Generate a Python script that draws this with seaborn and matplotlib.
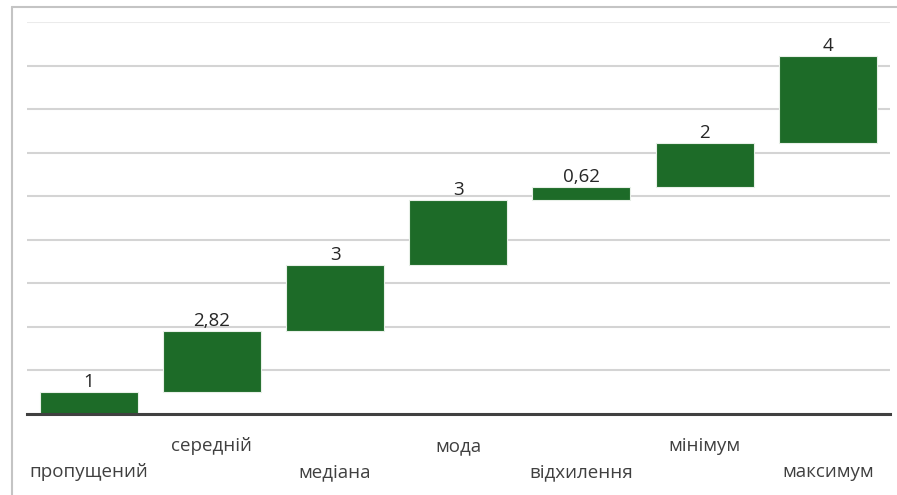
import matplotlib
matplotlib.use("Agg")
import matplotlib.pyplot as plt
import seaborn as sns
import numpy as np
from matplotlib.lines import Line2D

categories = ["пропущений", "середній", "медіана", "мода", "відхилення", "мінімум", "максимум"]
values = [1, 2.82, 3, 3, 0.62, 2, 4]
value_labels = ["1", "2,82", "3", "3", "0,62", "2", "4"]

bottoms = list(np.concatenate([[0], np.cumsum(values)[:-1]]))

sns.set_style("white")
plt.rcParams["font.family"] = ["Open Sans", "DejaVu Sans"]

fig = plt.figure(figsize=(8.97, 4.95), dpi=100)
ax = fig.add_axes([27/897, 1-414/495, (889.5-27)/897, (414-22)/495])

sns.barplot(x=categories, y=values, bottom=bottoms, color="#1d6b28",
            saturation=1, width=0.795, ax=ax, linewidth=0.8, edgecolor="#e8f0e8",
            zorder=3)

ax.set_ylim(0, 18)
ax.set_xlim(-0.5, 6.5)
ax.set_yticks(np.arange(0, 19, 2))
ax.set_yticklabels([])
ax.tick_params(axis="y", length=0)
ax.yaxis.grid(True, color="#d4d4d4", linewidth=1.5, zorder=0)
ax.set_axisbelow(True)
gl = ax.get_ygridlines()
gl[-1].set_color("#ebebeb")
for s in ["top", "right", "left"]:
    ax.spines[s].set_visible(False)
ax.spines["bottom"].set_color("#404040")
ax.spines["bottom"].set_linewidth(2.2)
ax.spines["bottom"].set_zorder(4)
ax.set_xlabel("")
ax.set_ylabel("")

ax.tick_params(axis="x", length=0, labelsize=13.5, labelcolor="#404040")
ticks = ax.xaxis.get_major_ticks()
for i, t in enumerate(ticks):
    t.set_pad(35.5 if i % 2 == 0 else 16.5)

for i, (b, v, lab) in enumerate(zip(bottoms, values, value_labels)):
    ax.annotate(lab, (i, b + v), xytext=(0, 0.8), textcoords="offset points",
                ha="center", va="bottom", fontsize=13.5, color="#262626")

# outer frame lines
fig.add_artist(Line2D([11.5/897, 11.5/897], [0, 1-6.5/495], transform=fig.transFigure,
                      color="#c4c4c4", linewidth=1.5))
fig.add_artist(Line2D([11.5/897, 1], [1-6.5/495, 1-6.5/495], transform=fig.transFigure,
                      color="#c4c4c4", linewidth=1.5))

fig.savefig("out.png", dpi=100)
